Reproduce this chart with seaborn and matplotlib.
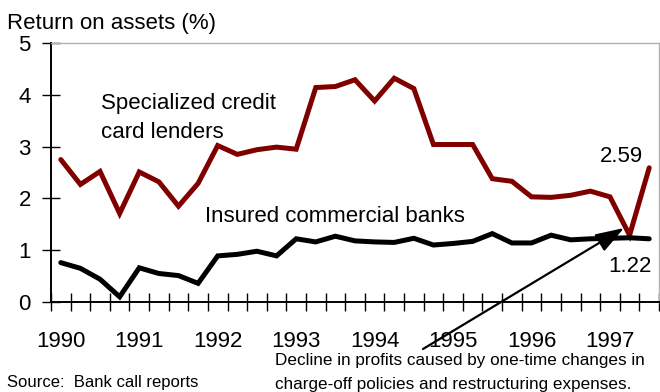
import numpy as np
import pandas as pd
import matplotlib
matplotlib.use("Agg")
import matplotlib.pyplot as plt
import seaborn as sns

# ---- data (quarterly, 1990 Q1 - 1997 Q3) ----
quarters = [f"{y}Q{q}" for y in range(1990, 1998) for q in range(1, 5)][:31]
credit_card = [2.75, 2.27, 2.52, 1.71, 2.51, 2.32, 1.85, 2.29, 3.02, 2.85,
               2.94, 2.99, 2.95, 4.14, 4.16, 4.29, 3.88, 4.32, 4.12, 3.04,
               3.04, 3.04, 2.38, 2.33, 2.03, 2.02, 2.06, 2.14, 2.03, 1.29, 2.59]
commercial = [0.76, 0.65, 0.44, 0.10, 0.66, 0.55, 0.51, 0.36, 0.89, 0.92,
              0.98, 0.89, 1.22, 1.16, 1.27, 1.18, 1.16, 1.15, 1.23, 1.10,
              1.13, 1.17, 1.32, 1.14, 1.14, 1.29, 1.20, 1.22, 1.23, 1.24, 1.22]
year_labels = ["1990", "1991", "1992", "1993", "1994", "1995", "1996", "1997"]
yticks = [0, 1, 2, 3, 4, 5]

sns.set_style("white")
plt.rcParams["font.family"] = ["Liberation Sans", "DejaVu Sans"]
plt.rcParams["text.color"] = "black"
plt.rcParams["xtick.color"] = "black"
plt.rcParams["ytick.color"] = "black"
plt.rcParams["xtick.labelcolor"] = "black"
plt.rcParams["ytick.labelcolor"] = "black"

W, H = 660, 392
fig = plt.figure(figsize=(W / 100, H / 100), dpi=100)
ax = fig.add_axes([51 / W, 1 - 302 / H, 608 / W, 259 / H])

idx = np.arange(len(quarters))
df = pd.DataFrame({"q": np.concatenate([idx, idx]),
                   "val": credit_card + commercial,
                   "series": ["cc"] * len(idx) + ["bank"] * len(idx)})
sns.lineplot(data=df, x="q", y="val", hue="series",
             palette={"cc": "#800000", "bank": "black"},
             linewidth=3.6, legend=False, ax=ax, solid_joinstyle="miter")

ax.set_xlim(-0.5, len(idx) - 0.5)
ax.set_ylim(0, 5)
ax.set_xlabel("")
ax.set_ylabel("")

# y axis
ax.set_yticks(yticks)
ax.set_yticklabels([str(t) for t in yticks], fontsize=16)
ax.tick_params(axis="y", direction="inout", length=13, width=1, colors="black", pad=8, left=True)

# x axis: year labels at first quarter, minor ticks at quarter boundaries
ax.set_xticks(np.arange(0, len(idx), 4))
ax.set_xticklabels(year_labels, fontsize=16)
ax.set_xticks(np.arange(-0.5, len(idx), 1), minor=True)
ax.tick_params(axis="x", which="major", length=0, pad=21, colors="black")
ax.tick_params(axis="x", which="minor", direction="inout", length=13, width=1,
               color="black", bottom=True)

for s in ["left", "bottom"]:
    ax.spines[s].set_color("black")
    ax.spines[s].set_linewidth(1.4)
for s in ["top", "right"]:
    ax.spines[s].set_color("#b0b0b0")
    ax.spines[s].set_linewidth(1.0)

def px(x, y):
    return x / W, 1 - y / H

fig.text(*px(7, 23), "Return on assets (%)", fontsize=16, va="center", ha="left")
fig.text(*px(101, 103), "Specialized credit", fontsize=16, va="center", ha="left")
fig.text(*px(101, 132), "card lenders", fontsize=16, va="center", ha="left")
fig.text(*px(205, 217), "Insured commercial banks", fontsize=16, va="center", ha="left")
fig.text(*px(643, 157), "2.59", fontsize=16, va="center", ha="right")
fig.text(*px(652, 266), "1.22", fontsize=16, va="center", ha="right")
fig.text(*px(7, 382), "Source:  Bank call reports", fontsize=12, va="center", ha="left")
fig.text(*px(275, 361), "Decline in profits caused by one-time changes in",
         fontsize=12.3, va="center", ha="left")
fig.text(*px(275, 384), "charge-off policies and restructuring expenses.",
         fontsize=12.3, va="center", ha="left")

ax.annotate("", xy=px(624, 228), xytext=px(423, 349),
            xycoords="figure fraction", textcoords="figure fraction",
            arrowprops=dict(arrowstyle="-|>,head_length=0.8,head_width=0.27",
                            mutation_scale=22, lw=1.6, color="black",
                            shrinkA=0, shrinkB=0),
            annotation_clip=False)

fig.savefig("out.png", dpi=100)
